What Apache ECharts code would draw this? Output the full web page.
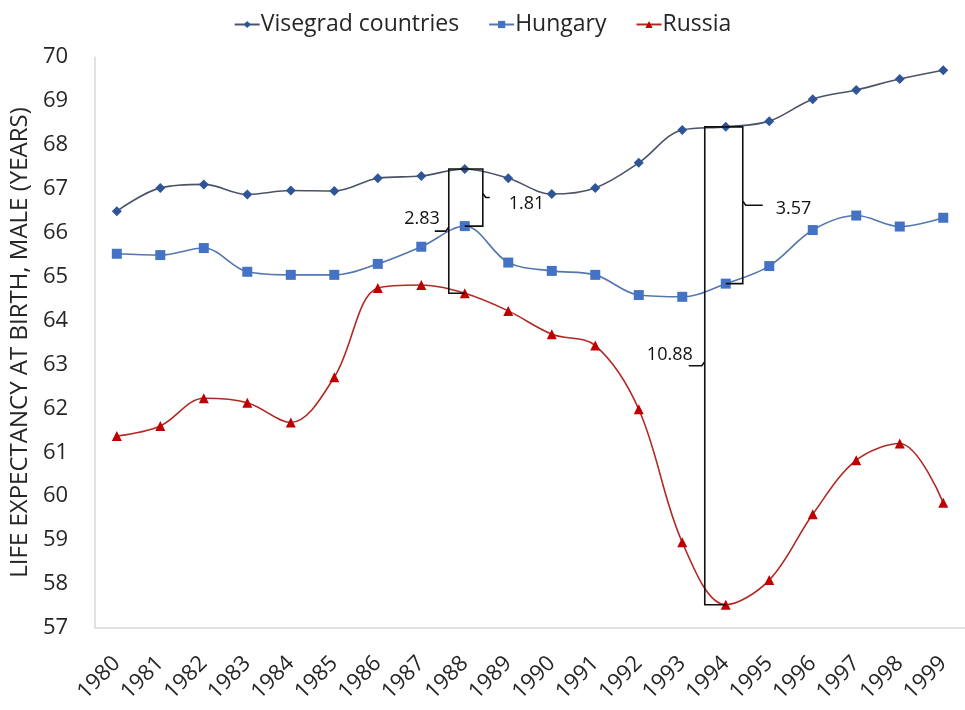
<!DOCTYPE html>
<html>
<head>
<meta charset="utf-8">
<script src="https://cdn.jsdelivr.net/npm/echarts@6/dist/echarts.min.js"></script>
<style>
  html, body { margin: 0; padding: 0; background: #ffffff; }
  #chart { width: 965px; height: 710px; }
</style>
</head>
<body>
<div id="chart"></div>
<script>
// Male life expectancy at birth, 1980-1999
const years = ['1980', '1981', '1982', '1983', '1984', '1985', '1986', '1987', '1988', '1989',
               '1990', '1991', '1992', '1993', '1994', '1995', '1996', '1997', '1998', '1999'];

const visegrad = [66.49, 67.02, 67.10, 66.87, 66.96, 66.95, 67.24, 67.29, 67.45, 67.24,
                  66.88, 67.02, 67.59, 68.34, 68.41, 68.54, 69.04, 69.25, 69.50, 69.70];
const hungary  = [65.52, 65.49, 65.65, 65.11, 65.04, 65.04, 65.29, 65.68, 66.15, 65.32,
                  65.13, 65.04, 64.58, 64.54, 64.84, 65.24, 66.06, 66.39, 66.14, 66.34];
const russia   = [61.37, 61.60, 62.23, 62.13, 61.68, 62.71, 64.74, 64.81, 64.62, 64.22,
                  63.69, 63.43, 61.98, 58.95, 57.53, 58.09, 59.59, 60.82, 61.20, 59.85];

const yMin = 57;
const yMax = 70;
const yStep = 1;

// Gap annotations (curly braces between two series in a given year)
const gapYears  = ['1988', '1988', '1994', '1994'];
const gapUpper  = ['Visegrad countries', 'Visegrad countries', 'Visegrad countries', 'Visegrad countries'];
const gapLower  = ['Russia', 'Hungary', 'Hungary', 'Russia'];
const gapLabels = ['2.83', '1.81', '3.57', '10.88'];

const seriesNames = ['Visegrad countries', 'Hungary', 'Russia'];
const valuesByName = {
  'Visegrad countries': visegrad,
  'Hungary': hungary,
  'Russia': russia
};

// Brace drawing style: side (-1 left / +1 right), distance from point, tick length, label offsets
const braceStyle = [
  { side: -1, offset: 16, tick: 14, dx: -5, dy: -12 },
  { side:  1, offset: 18, tick: 7,  dx: 19, dy: 6 },
  { side:  1, offset: 17, tick: 20, dx: 13, dy: 4 },
  { side: -1, offset: 21, tick: 16, dx: -4, dy: -11 }
];

const gapData = gapYears.map(function (y, i) {
  const idx = years.indexOf(y);
  return [idx, valuesByName[gapUpper[i]][idx], valuesByName[gapLower[i]][idx]];
});

const FONT = '"Open Sans", "Liberation Sans", sans-serif';
const TEXT = '#262626';

const chart = echarts.init(document.getElementById('chart'), null, { renderer: 'canvas' });

function lineSeries(name, data, lineColor, markColor, symbol, size) {
  return {
    name: name,
    type: 'line',
    data: data,
    smooth: 0.35,
    symbol: symbol,
    symbolSize: size,
    showSymbol: true,
    lineStyle: { color: lineColor, width: 1.6 },
    itemStyle: { color: markColor, borderWidth: 0 },
    z: 3
  };
}

chart.setOption({
  animation: false,
  backgroundColor: '#ffffff',
  textStyle: { fontFamily: FONT },
  legend: {
    data: seriesNames,
    top: 8,
    left: 'center',
    itemWidth: 25,
    itemHeight: 9,
    itemGap: 29,
    textStyle: { fontFamily: FONT, fontSize: 23, color: TEXT, padding: [0, 0, 0, -4] }
  },
  grid: { left: 95, top: 57, width: 876, height: 571, containLabel: false },
  xAxis: {
    type: 'category',
    data: years,
    boundaryGap: true,
    axisLine: { show: true, lineStyle: { color: '#d9d9d9', width: 1.5 } },
    axisTick: { show: false },
    splitLine: { show: false },
    axisLabel: {
      rotate: 45,
      margin: 32,
      interval: 0,
      fontFamily: FONT,
      fontSize: 22,
      color: TEXT
    }
  },
  yAxis: {
    type: 'value',
    min: yMin,
    max: yMax,
    interval: yStep,
    name: 'LIFE EXPECTANCY AT BIRTH, MALE (YEARS)',
    nameLocation: 'middle',
    nameGap: 60,
    nameTextStyle: { fontFamily: FONT, fontSize: 24, color: TEXT },
    axisLine: { show: true, lineStyle: { color: '#d9d9d9', width: 1.5 } },
    axisTick: { show: false },
    splitLine: { show: false },
    axisLabel: { margin: 27, fontFamily: FONT, fontSize: 22, color: TEXT }
  },
  series: [
    lineSeries('Visegrad countries', visegrad, '#4a5468', '#2f5597', 'diamond', 10),
    lineSeries('Hungary', hungary, '#5577b0', '#4472c4', 'rect', 10),
    lineSeries('Russia', russia, '#b02a25', '#c00000', 'triangle', 10),
    {
      name: 'gaps',
      type: 'custom',
      data: gapData,
      silent: true,
      clip: false,
      z: 5,
      renderItem: function (params, api) {
        const i = params.dataIndex;
        const st = braceStyle[i];
        const top = api.coord([api.value(0), api.value(1)]);
        const bot = api.coord([api.value(0), api.value(2)]);
        const px = top[0];
        const vx = px + st.side * st.offset;
        const mid = (top[1] + bot[1]) / 2;
        const tx = vx + st.side * st.tick;
        const stroke = { stroke: '#111111', lineWidth: 1.6, fill: null };
        return {
          type: 'group',
          children: [
            {
              type: 'polyline',
              shape: { points: [[px, top[1]], [vx, top[1]], [vx, bot[1]], [px, bot[1]]] },
              style: stroke
            },
            {
              type: 'polyline',
              shape: { points: [[vx, mid - 4], [vx + st.side * 3, mid], [tx, mid]] },
              style: stroke
            },
            {
              type: 'text',
              x: tx + st.side * st.dx,
              y: mid + st.dy,
              style: {
                text: gapLabels[i],
                fontFamily: FONT,
                fontSize: 18,
                fill: '#111111',
                align: st.side < 0 ? 'right' : 'left',
                verticalAlign: 'middle'
              }
            }
          ]
        };
      }
    }
  ]
});
</script>
</body>
</html>
